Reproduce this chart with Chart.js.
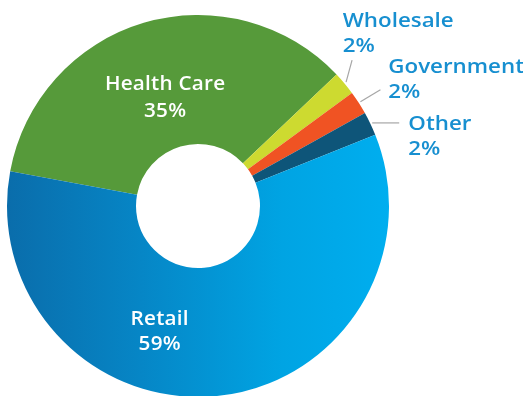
<!DOCTYPE html>
<html>
<head>
<meta charset="utf-8">
<script src="https://cdn.jsdelivr.net/npm/chart.js@4/dist/chart.umd.min.js"></script>
<style>
html,body{margin:0;padding:0;background:#fff;overflow:hidden;}
#wrap{position:relative;width:523px;height:400px;}
</style>
</head>
<body>
<div id="wrap"><canvas id="c" width="523" height="400"></canvas></div>
<script>
const categories = ["Health Care", "Wholesale", "Government", "Other", "Retail"];
const shares = [35, 2, 2, 2, 59];
const valueLabels = ["35%", "2%", "2%", "2%", "59%"];
const sliceColors = ["#569a3a", "#cdda30", "#f05323", "#0e5579", null];
const retailStops = ["#0a6dab", "#0686c6", "#00a4e3", "#00aeef"];

function retailGradient(ctx) {
  const chart = ctx.chart;
  const a = chart.chartArea;
  if (!a) return retailStops[3];
  const g = chart.ctx.createLinearGradient(a.left, 0, a.right, 0);
  g.addColorStop(0, retailStops[0]);
  g.addColorStop(0.35, retailStops[1]);
  g.addColorStop(0.72, retailStops[2]);
  g.addColorStop(1, retailStops[3]);
  return g;
}

const FONT = '"Open Sans", sans-serif';
const STRETCH = 1.09;

function wideText(ctx, text, x, y) {
  ctx.save();
  ctx.translate(x, y);
  ctx.scale(STRETCH, 1);
  ctx.fillText(text, 0, 0);
  ctx.restore();
}

const labelPlugin = {
  id: 'sliceLabels',
  afterDatasetsDraw(chart, args, opts) {
    const ctx = chart.ctx;
    const arcs = chart.getDatasetMeta(0).data;
    ctx.save();
    opts.items.forEach(it => {
      const arc = arcs[it.index];
      const cx = arc.x, cy = arc.y;
      const mid = (arc.startAngle + arc.endAngle) / 2;
      ctx.font = it.font;
      ctx.fillStyle = it.color;
      ctx.letterSpacing = it.ls + 'px';
      if (it.inside) {
        const ang = it.angle * Math.PI / 180;
        const px = cx + it.r * Math.cos(ang) + it.ls / 2;
        const py = cy + it.r * Math.sin(ang);
        ctx.textAlign = 'center';
        ctx.textBaseline = 'alphabetic';
        wideText(ctx, categories[it.index], px, py + it.b1);
        wideText(ctx, valueLabels[it.index], px, py + it.b2);
      } else {
        const sx = cx + (arc.outerRadius + 2) * Math.cos(mid);
        const sy = cy + (arc.outerRadius + 2) * Math.sin(mid);
        ctx.strokeStyle = '#a6a6a6';
        ctx.lineWidth = 1.2;
        ctx.beginPath();
        ctx.moveTo(sx, sy);
        ctx.lineTo(sx + it.lx, sy + it.ly);
        ctx.stroke();
        ctx.textAlign = 'left';
        ctx.textBaseline = 'alphabetic';
        wideText(ctx, categories[it.index], cx + it.tx, cy + it.ty);
        wideText(ctx, valueLabels[it.index], cx + it.tx, cy + it.ty + 25);
      }
    });
    ctx.restore();
  }
};

new Chart(document.getElementById('c'), {
  type: 'doughnut',
  data: {
    labels: categories,
    datasets: [{
      data: shares,
      backgroundColor: (ctx) => ctx.dataIndex === 4 ? retailGradient(ctx) : sliceColors[ctx.dataIndex],
      borderWidth: 0,
      hoverOffset: 0
    }]
  },
  options: {
    responsive: false,
    animation: false,
    rotation: 280.5,
    cutout: 62,
    radius: 191,
    layout: { padding: { left: 7, right: 134, top: 15, bottom: 3 } },
    plugins: {
      legend: { display: false },
      tooltip: { enabled: false },
      sliceLabels: {
        items: [
          { index: 0, inside: true, angle: 253.2, r: 114, b1: -6.5, b2: 20, ls: 0.2, font: '600 19px ' + FONT, color: '#ffffff' },
          { index: 4, inside: true, angle: 107.1, r: 130.6, b1: -5.8, b2: 19.2, ls: 0.2, font: '600 19px ' + FONT, color: '#ffffff' },
          { index: 1, inside: false, lx: 6, ly: -22, tx: 144.7, ty: -179.3, ls: 0, font: '600 20.5px ' + FONT, color: '#178fd0' },
          { index: 2, inside: false, lx: 20, ly: -12, tx: 190.3, ty: -133.3, ls: 0, font: '600 20.5px ' + FONT, color: '#178fd0' },
          { index: 3, inside: false, lx: 27, ly: 0, tx: 210.3, ty: -76, ls: 0, font: '600 20.5px ' + FONT, color: '#178fd0' }
        ]
      }
    }
  },
  plugins: [labelPlugin]
});
</script>
</body>
</html>
